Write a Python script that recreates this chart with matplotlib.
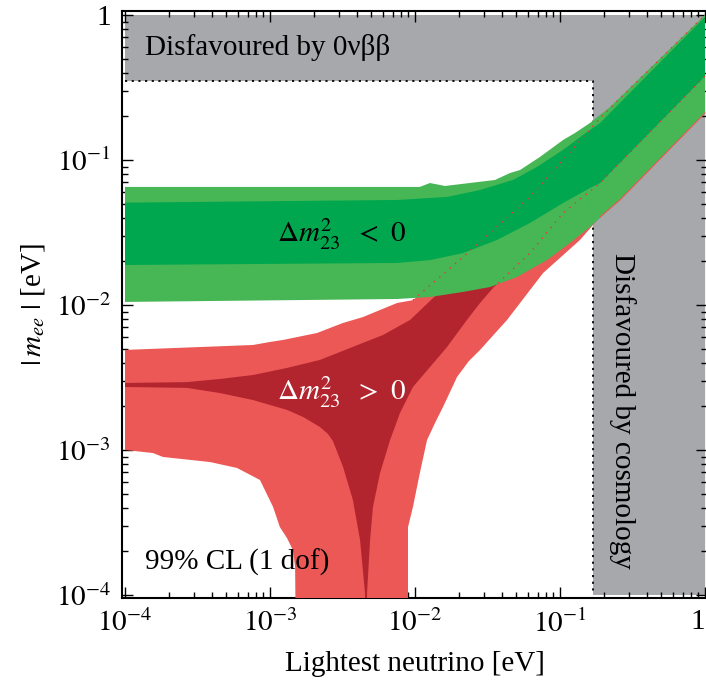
import numpy as np
import matplotlib.pyplot as plt
from matplotlib.ticker import LogLocator

plt.rcParams['font.family'] = 'Liberation Serif'
plt.rcParams['mathtext.fontset'] = 'stix'

# ---- band edges (eV) ----
# inverted hierarchy (dm23^2 < 0), outer band
ih_out_up_m = [1e-4, 0.0108, 0.01268, 0.0161, 0.0356, 0.0452, 0.053, 0.0728, 0.105, 0.1268, 0.161, 0.2213, 1.0]
ih_out_up = [0.0652, 0.0652, 0.0694, 0.0662, 0.0728, 0.0813, 0.0853, 0.105, 0.1374, 0.1535, 0.18, 0.232, 1.0]
ih_out_lo_m = [1e-4, 0.00752, 0.01268, 0.0214, 0.0329, 0.0505, 0.0813, 0.1173, 0.161, 0.259, 1.0]
ih_out_lo = [0.0105, 0.011, 0.01135, 0.0123, 0.0133, 0.0156, 0.0204, 0.0268, 0.0345, 0.053, 0.211]
# inverted hierarchy, inner band
ih_in_up_m = [1e-4, 0.00752, 0.01663, 0.0281, 0.0474, 0.0694, 0.105, 0.144, 0.189, 1.0]
ih_in_up = [0.0508, 0.053, 0.0556, 0.0621, 0.0728, 0.0895, 0.1173, 0.1486, 0.18, 0.969]
ih_in_lo_m = [1e-4, 0.00752, 0.01268, 0.0214, 0.0368, 0.0621, 0.105, 0.161, 0.189, 1.0]
ih_in_lo = [0.01888, 0.0195, 0.0204, 0.0228, 0.0281, 0.0368, 0.0505, 0.0641, 0.0694, 0.379]

# normal hierarchy (dm23^2 > 0), outer band
nh_out_up_m = [1e-4, 7.64e-4, 1e-3, 1.23e-3, 2.11e-3, 3.19e-3, 4.38e-3, 5.74e-3, 7.52e-3, 9.68e-3,
               0.0214, 0.0621, 0.105, 0.189, 1.0]
nh_out_up = [4.9e-3, 5.3e-3, 5.56e-3, 5.74e-3, 6.41e-3, 7.52e-3, 8.26e-3, 9.24e-3, 0.01032, 0.0108,
             0.0214, 0.0556, 0.1, 0.195, 1.0]
nh_out_lo_left_m = [1e-4, 1.56e-4, 1.83e-4, 3.86e-4, 5.92e-4, 8.53e-4, 1.05e-3, 1.17e-3, 1.31e-3,
                    1.44e-3, 1.49e-3, 1.53e-3]
nh_out_lo_left = [1.0e-3, 9.53e-4, 8.95e-4, 8.26e-4, 7.52e-4, 6.21e-4, 4.05e-4, 2.94e-4, 2.47e-4,
                  2.04e-4, 1.56e-4, 1e-5]
nh_out_lo_right_m = [8.95e-3, 8.95e-3, 9.68e-3, 0.0108, 0.0121, 0.0138, 0.0156, 0.0195, 0.0235, 0.0281,
                     0.0431, 0.0621, 0.0764, 0.1374, 0.189, 0.259, 1.0]
nh_out_lo_right = [1e-5, 2.94e-4, 4.05e-4, 6.94e-4, 1.17e-3, 1.55e-3, 1.98e-3, 3.19e-3, 4.1e-3, 4.9e-3,
                   7.88e-3, 0.01268, 0.0166, 0.0281, 0.0405, 0.053, 0.211]
# normal hierarchy, inner band
nh_in_up_m = [1e-4, 2.68e-4, 4.52e-4, 7.64e-4, 1.31e-3, 2.21e-3, 3.56e-3, 6.01e-3, 9.24e-3, 0.0174, 0.189, 1.0]
nh_in_up = [2.9e-3, 2.94e-3, 3.09e-3, 3.29e-3, 3.68e-3, 4.18e-3, 5.05e-3, 6.21e-3, 7.88e-3, 0.0144, 0.174, 0.969]
nh_in_lo_left_m = [1e-4, 2.68e-4, 4.52e-4, 7.64e-4, 1.31e-3, 1.69e-3, 2.21e-3, 2.51e-3, 2.72e-3, 3.19e-3,
                   3.73e-3, 4.18e-3, 4.52e-3, 4.59e-3]
nh_in_lo_left = [2.72e-3, 2.68e-3, 2.47e-3, 2.21e-3, 1.89e-3, 1.69e-3, 1.44e-3, 1.29e-3, 1.15e-3, 7.64e-4,
                 4.52e-4, 2.39e-4, 1.03e-4, 1e-5]
nh_in_lo_right_m = [4.59e-3, 4.67e-3, 4.9e-3, 5.13e-3, 5.74e-3, 6.73e-3, 7.88e-3, 9.68e-3, 0.01268,
                    0.01663, 0.0228, 0.0281, 0.0345, 0.0621, 0.105, 0.189, 1.0]
nh_in_lo_right = [1e-5, 1.03e-4, 2.39e-4, 4.05e-4, 6.94e-4, 1.17e-3, 1.8e-3, 2.72e-3, 3.73e-3,
                  5.13e-3, 7.88e-3, 0.01032, 0.0131, 0.0228, 0.0431, 0.0694, 0.379]

# excluded regions
m_cosmo = 0.169    # eV, cosmology bound on lightest mass
mee_0nbb = 0.351   # eV, 0vbb bound

c_gray = '#a7a8ac'
c_lgreen = '#47b655'
c_dgreen = '#00a74f'
c_lred = '#ec5856'
c_dred = '#b3252e'

fig = plt.figure(figsize=(7.06, 6.90), dpi=100)
ax = fig.add_axes([122/706, 92/690, 585/706, 587/690])
ax.set_xscale('log')
ax.set_yscale('log')
ax.set_xlim(10**-4.0207, 10**0.0138)
ax.set_ylim(10**-4.0207, 10**0.0276)

# gray regions
ax.fill_between([1e-4, 1], [mee_0nbb]*2, [1, 1], color=c_gray, lw=0, zorder=1)
ax.fill_between([m_cosmo, 1], [1e-4]*2, [mee_0nbb]*2, color=c_gray, lw=0, zorder=1)
ax.plot([1e-4, m_cosmo, m_cosmo], [mee_0nbb, mee_0nbb, 1e-4], color='k', ls=(0, (1.2, 2.5)),
        lw=1.3, zorder=2)

def band(xu, yu, xl, yl, color, z):
    xs = list(xu) + list(xl)[::-1]
    ys = list(yu) + list(yl)[::-1]
    ax.fill(xs, ys, color=color, lw=0, zorder=z)

# normal hierarchy
xs = nh_out_up_m + nh_out_lo_right_m[::-1] + nh_out_lo_left_m[::-1]
ys = nh_out_up + nh_out_lo_right[::-1] + nh_out_lo_left[::-1]
ax.fill(xs, ys, color=c_lred, lw=0, zorder=3)
xs = nh_in_up_m + nh_in_lo_right_m[::-1] + nh_in_lo_left_m[::-1]
ys = nh_in_up + nh_in_lo_right[::-1] + nh_in_lo_left[::-1]
ax.fill(xs, ys, color=c_dred, lw=0, zorder=4)

# inverted hierarchy
band(ih_out_up_m, ih_out_up, ih_out_lo_m, ih_out_lo, c_lgreen, 5)
band(ih_in_up_m, ih_in_up, ih_in_lo_m, ih_in_lo, c_dgreen, 6)

# red edges showing through the green
ax.plot(nh_out_up_m[9:], nh_out_up[9:], color='#e8373a', ls=(0, (1, 4)), lw=1.0, zorder=7)
ax.plot(nh_in_lo_right_m[12:], nh_in_lo_right[12:], color='#e8373a', ls=(0, (1, 4)), lw=1.0, zorder=7)
ax.plot(nh_out_lo_right_m[14:], nh_out_lo_right[14:], color=c_lred, lw=0.8, zorder=7)

# text
ax.text(1.37e-4, 0.60, 'Disfavoured by 0νββ', fontsize=21, ha='left', va='center', zorder=8)
ax.text(0.268, 1.86e-3, 'Disfavoured by cosmology', fontsize=21, rotation=-90,
        ha='center', va='center', zorder=8)
ax.text(1.12e-3, 0.031, r'$\Delta m^2_{23}\ \ <\ 0$', fontsize=21, ha='left', va='center', zorder=8)
ax.text(1.12e-3, 2.5e-3, r'$\Delta m^2_{23}\ \ >\ 0$', fontsize=21, ha='left', va='center',
        color='white', zorder=8)
ax.text(1.37e-4, 1.69e-4, '99% CL (1 dof)', fontsize=21, ha='left', va='center', zorder=8)

# axes
ticks = [1e-4, 1e-3, 1e-2, 1e-1, 1]
labels = [r'$10^{-4}$', r'$10^{-3}$', r'$10^{-2}$', r'$10^{-1}$', '1']
for axis in (ax.xaxis, ax.yaxis):
    axis.set_minor_locator(LogLocator(base=10, subs=np.arange(2, 10), numticks=10))
ax.set_xticks(ticks)
ax.set_xticklabels(labels)
ax.set_yticks(ticks)
ax.set_yticklabels(labels)
ax.tick_params(which='both', direction='in', top=True, right=True, labelsize=21, width=1.0)
ax.tick_params(which='major', length=8, pad=8)
ax.tick_params(which='minor', length=4)
ax.get_xticklabels()[-1].set_horizontalalignment('right')
for s in ax.spines.values():
    s.set_linewidth(1.5)

ax.set_xlabel('Lightest neutrino [eV]', fontsize=21, labelpad=10)
ax.set_ylabel(r'$|\,m_{ee}\ |$ [eV]', fontsize=21, labelpad=6)

fig.savefig('out.png', dpi=100)
